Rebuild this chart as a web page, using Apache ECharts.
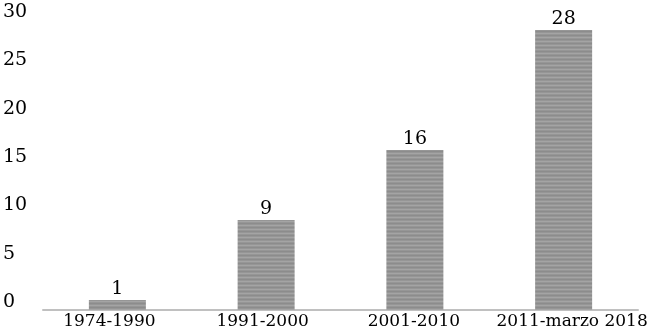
<!DOCTYPE html>
<html>
<head>
<meta charset="utf-8">
<script src="https://cdn.jsdelivr.net/npm/echarts@6/dist/echarts.min.js"></script>
<style>html,body{margin:0;padding:0;background:#fff}#c{width:650px;height:331px}</style>
</head>
<body>
<div id="c"></div>
<script>
const categories = ['1974-1990', '1991-2000', '2001-2010', '2011-marzo 2018'];
const values = [1, 9, 16, 28];
const yTicks = [0, 5, 10, 15, 20, 25, 30];

const pc = document.createElement('canvas');
pc.width = 4; pc.height = 4;
const ctx = pc.getContext('2d');
ctx.fillStyle = '#969696'; ctx.fillRect(0, 0, 4, 4);
ctx.fillStyle = '#a4a4a4'; ctx.fillRect(0, 1, 4, 1);
ctx.fillStyle = '#8c8c8c'; ctx.fillRect(0, 3, 4, 1);

const font = '"DejaVu Serif", serif';
const labelPads = [[0, 16, 0, 0], [0, 7, 0, 0], [0, 2, 0, 0], [0, 0, 0, 17]];
const rich = {};
labelPads.forEach((p, i) => {
  rich['s' + i] = {color: '#000', fontFamily: font, fontSize: 17, padding: p};
});

const chart = echarts.init(document.getElementById('c'), null, {renderer: 'canvas'});
chart.setOption({
  animation: false,
  backgroundColor: '#ffffff',
  grid: {left: 40, right: 9, top: 10, bottom: 21, containLabel: false},
  xAxis: {
    type: 'category',
    data: categories,
    axisLine: {lineStyle: {color: '#c0c0c0', width: 2}},
    axisTick: {show: false},
    axisLabel: {
      interval: 0, color: '#000', fontFamily: font, fontSize: 17, margin: 3,
      formatter: (v, i) => '{s' + i + '|' + v + '}',
      rich: rich
    }
  },
  yAxis: [{
    type: 'value', min: 0, max: 30, interval: 5,
    axisLine: {show: false}, axisTick: {show: false},
    splitLine: {show: false}, axisLabel: {show: false}
  }, {
    type: 'value', min: -0.8, max: 30.2, position: 'left',
    axisLine: {show: false}, axisTick: {show: false}, splitLine: {show: false},
    axisLabel: {customValues: yTicks, color: '#000', fontFamily: font, fontSize: 19, align: 'left', margin: 40}
  }],
  series: [{
    type: 'bar',
    yAxisIndex: 0,
    data: values,
    barWidth: 57,
    itemStyle: {color: {image: pc, repeat: 'repeat'}},
    label: {show: true, position: 'top', distance: 1, color: '#000', fontFamily: font, fontSize: 19}
  }]
});
</script>
</body>
</html>
